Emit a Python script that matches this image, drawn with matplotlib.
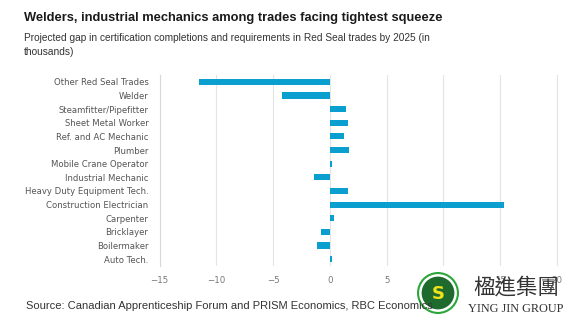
import matplotlib
matplotlib.use("Agg")
import matplotlib.pyplot as plt
from matplotlib.patches import Circle

trades = [
    "Other Red Seal Trades", "Welder", "Steamfitter/Pipefitter", "Sheet Metal Worker",
    "Ref. and AC Mechanic", "Plumber", "Mobile Crane Operator", "Industrial Mechanic",
    "Heavy Duty Equipment Tech.", "Construction Electrician", "Carpenter", "Bricklayer",
    "Boilermaker", "Auto Tech.",
]
gap = [-11.5, -4.25, 1.4, 1.6, 1.2, 1.7, 0.15, -1.4, 1.6, 15.3, 0.4, -0.8, -1.1, 0.15]
xticks = [-15, -10, -5, 0, 5, 10, 15, 20]

W, H = 577, 328
fig = plt.figure(figsize=(W / 100, H / 100), dpi=100)
fig.patch.set_facecolor("white")

ax = fig.add_axes([159.5 / W, 1 - 266 / H, (565 - 159.5) / W, (266 - 75) / H])
ypos = list(range(len(trades)))
ax.barh(ypos, gap, height=0.45, color="#0b9fd0", zorder=3)
ax.set_ylim(len(trades) - 0.5, -0.5)
ax.set_xlim(-15, 20.7)
ax.set_yticks(ypos)
ax.set_yticklabels(trades, fontsize=6.1, color="#555555", family="DejaVu Sans")
ax.set_xticks(xticks)
ax.set_xticklabels([str(t) if t >= 0 else "\u2212" + str(-t) for t in xticks],
                   fontsize=6.2, color="#777777", family="DejaVu Sans")
ax.tick_params(axis="y", length=0, pad=8)
ax.tick_params(axis="x", length=0, pad=7)
ax.grid(axis="x", color="#e4e4e4", linewidth=0.8, zorder=0)
for s in ["top", "right", "bottom"]:
    ax.spines[s].set_visible(False)
ax.spines["left"].set_color("#d8d8d8")
ax.spines["left"].set_linewidth(0.8)

fig.text(24 / W, 1 - 18 / H, "Welders, industrial mechanics among trades facing tightest squeeze",
         fontsize=9.3, fontweight="bold", family="Liberation Sans", color="#1a1a1a", va="center")
fig.text(24 / W, 1 - 45 / H,
         "Projected gap in certification completions and requirements in Red Seal trades by 2025 (in\nthousands)",
         fontsize=7.3, family="Liberation Sans", color="#333333", va="center", linespacing=1.45)
fig.text(26 / W, 1 - 306 / H,
         "Source: Canadian Apprenticeship Forum and PRISM Economics, RBC Economics",
         fontsize=8.0, family="Liberation Sans", color="#333333", va="center")

# company badge and wordmark
badge = fig.add_axes([417 / W, 1 - 314 / H, 42 / W, 42 / H])
badge.set_xlim(-1, 1)
badge.set_ylim(-1, 1)
badge.set_aspect("equal")
badge.axis("off")
badge.add_patch(Circle((0, 0), 0.95, facecolor="white", edgecolor="#2aa63a", linewidth=1.5))
badge.add_patch(Circle((0, 0), 0.78, facecolor="#1f6b2e"))
badge.text(0, -0.05, "S", fontsize=13, fontweight="bold", color="#f2e21a",
           ha="center", va="center", family="DejaVu Sans")
fig.text(516 / W, 1 - 288 / H, "楹進集團", fontsize=15.5,
         family=["Noto Sans CJK TC", "DejaVu Sans"], color="#333333", ha="center", va="center")
fig.text(516 / W, 1 - 309 / H, "YING JIN GROUP", fontsize=8.8,
         family="Liberation Serif", color="#333333", ha="center", va="center")

fig.savefig("out.png", dpi=100, facecolor="white")
